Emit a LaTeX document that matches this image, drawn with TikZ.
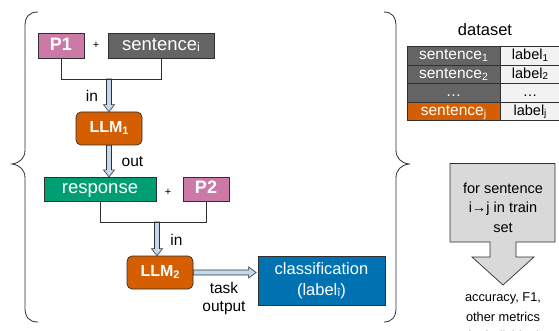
\documentclass[tikz,border=0pt]{standalone}
\usepackage{fontspec}
\setmainfont{Liberation Sans}
\usepackage{graphicx}
\usetikzlibrary{calc}

\definecolor{promptpink}{HTML}{CC79A7}
\definecolor{sentgray}{HTML}{646464}
\definecolor{llmorange}{HTML}{D55E00}
\definecolor{respgreen}{HTML}{009E73}
\definecolor{clsblue}{HTML}{0072B2}
\definecolor{arrowblue}{HTML}{C5D9EE}
\definecolor{labelcell}{HTML}{F2F2F2}
\definecolor{loopgray}{HTML}{D9D9D9}
\definecolor{edge}{HTML}{303030}

% small lowered index, as in sentence_i or LLM_1
\newcommand{\sbs}[1]{\raisebox{-0.1em}{\scalebox{0.68}{#1}}}
\newcommand{\setfs}[2]{\fontsize{#1}{#2}\selectfont}

% hollow block arrows between node anchors
\newcommand{\fatdown}[2]{%
  \draw[fatarrow] let \p1=(#1), \p2=(#2) in
    (\x1-2.5pt,\y1) -- (\x1-2.5pt,\y2+7pt) -- (\x1-5.5pt,\y2+7pt) -- (\x1,\y2)
    -- (\x1+5.5pt,\y2+7pt) -- (\x1+2.5pt,\y2+7pt) -- (\x1+2.5pt,\y1) -- cycle;}
\newcommand{\fatright}[2]{%
  \draw[fatarrow] let \p1=(#1), \p2=(#2) in
    (\x1,\y1+2.5pt) -- (\x2-9pt,\y1+2.5pt) -- (\x2-9pt,\y1+5.5pt) -- (\x2-1.5pt,\y1)
    -- (\x2-9pt,\y1-5.5pt) -- (\x2-9pt,\y1-2.5pt) -- (\x1,\y1-2.5pt) -- cycle;}

\begin{document}
\begin{tikzpicture}[x=1pt, y=-1pt,
  every node/.style={inner sep=0pt},
  cellbox/.style={draw=edge, line width=0.7pt, text=white,
    text height=0.82em, text depth=0pt},
  promptbox/.style={cellbox, fill=promptpink, minimum width=46, minimum height=24.5,
    font=\bfseries\setfs{18}{18}},
  textbox/.style={cellbox, minimum height=24.5, font=\setfs{18.5}{18.5}},
  llmbox/.style={cellbox, fill=llmorange, rounded corners=5, minimum width=66,
    minimum height=33, font=\bfseries\setfs{16}{16}},
  link/.style={draw=edge, line width=0.7pt},
  fatarrow/.style={fill=arrowblue, draw=edge, line width=0.6pt, line join=miter},
  lbl/.style={anchor=base, font=\setfs{15.5}{15.5}, text=black},
  plus/.style={font=\setfs{11}{11}, text=black},
  brace/.style={draw=edge, line width=0.8pt},
  scell/.style={draw=edge, line width=0.6pt, fill=sentgray, text=white,
    minimum width=93, minimum height=18.5, text height=0.85em, text depth=0pt,
    font=\setfs{15.5}{15.5}},
  lcell/.style={scell, fill=labelcell, text=black, minimum width=60,
    font=\setfs{14.5}{14.5}},
  loopshape/.style={fill=loopgray, draw=edge, line width=0.7pt, line join=miter},
  looptext/.style={anchor=base, font=\setfs{14.5}{14.5}, text=black},
  metrictext/.style={anchor=base, font=\setfs{12.8}{12.8}, text=black}
]
\fill[white] (0,0) rectangle (559,331);
\useasboundingbox (0,0) rectangle (559,331);

% ---- braces around the per-sentence pipeline
\draw[brace] (38,12) .. controls (29,12) and (25,17) .. (25,26) -- (25,150)
  .. controls (25,158) and (20,163) .. (12,164)
  .. controls (20,165) and (25,170) .. (25,178) -- (25,308)
  .. controls (25,317) and (29,322) .. (38,322);
\draw[brace] (384,12) .. controls (392,12) and (396,17) .. (396,26) -- (396,150)
  .. controls (396,158) and (401,163) .. (409,164)
  .. controls (401,165) and (396,170) .. (396,178) -- (396,308)
  .. controls (396,317) and (392,322) .. (384,322);

% ---- first stage
\node[promptbox] (p1) at (61,46) {P1};
\node[plus] (plus1) at (96,45) {+};
\node[textbox, fill=sentgray, minimum width=106] (sent) at (161,46) {sentence\sbs{i}};
\node[llmbox] (llm1) at (109,128.5) {LLM\sbs{1}};
\coordinate (j1) at (109,79);

\fatdown{j1}{llm1.north}
\draw[link] (p1.south) -- (p1.south |- j1) -- (sent.south |- j1) -- (sent.south);
\node[lbl] (in1) at (92,101.5) {in};

% ---- second stage
\node[textbox, fill=respgreen, minimum width=112] (resp) at (100,189.5) {response};
\node[plus] (plus2) at (168,192) {+};
\node[promptbox] (p2) at (206,189.5) {P2};
\fatdown{llm1.south}{resp.north}
\node[lbl] (out1) at (132.5,166.5) {out};

\node[llmbox] (llm2) at (160,272.5) {LLM\sbs{2}};
\coordinate (j2) at (157,222);
\fatdown{j2}{llm2.north}
\draw[link] (resp.south) -- (resp.south |- j2) -- (p2.south |- j2) -- (p2.south);
\node[lbl] (in2) at (176.5,245) {in};

\node[cellbox, fill=clsblue, minimum width=127, minimum height=49,
  text height=, text depth=, align=center, font=\setfs{16.5}{20.5}]
  (cls) at (321.5,280.5) {classification\\(label\sbs{î})};
\fatright{llm2.east}{cls.west}
\node[lbl] (task) at (224,293.3) {task};
\node[lbl] (outp) at (224,311) {output};

% ---- dataset table
\node[lbl, font=\setfs{16.5}{16.5}] (dstitle) at (485,35.7) {dataset};
\node[scell] (s1) at (453.5,55.75) {sentence\sbs{1}};
\node[scell] (s2) at (453.5,74.25) {sentence\sbs{2}};
\node[scell] (s3) at (453.5,92.75) {…};
\node[scell, fill=llmorange] (sj) at (453.5,111.25) {sentence\sbs{j}};
\node[lcell] (l1) at (530,55.75) {label\sbs{1}};
\node[lcell] (l2) at (530,74.25) {label\sbs{2}};
\node[lcell] (l3) at (530,92.75) {…};
\node[lcell] (lj) at (530,111.25) {label\sbs{j}};

% ---- loop over the training set
\filldraw[loopshape] (450,163.5) -- (555,163.5) -- (555,242) -- (516,242) -- (516,257)
  -- (534,257) -- (503,285) -- (472,257) -- (490,257) -- (490,242) -- (450,242) -- cycle;
\node[looptext] (loop1) at (503,193.3) {for sentence};
\node[looptext] (loop2) at (503,212.8) {i→j in train};
\node[looptext] (loop3) at (503,232.5) {set};

\node[metrictext] (m1) at (503,301.5) {accuracy, F1,};
\node[metrictext] (m2) at (503,321) {other metrics};
\node[metrictext] (m3) at (503,340.5) {for individual};
\end{tikzpicture}
\end{document}
